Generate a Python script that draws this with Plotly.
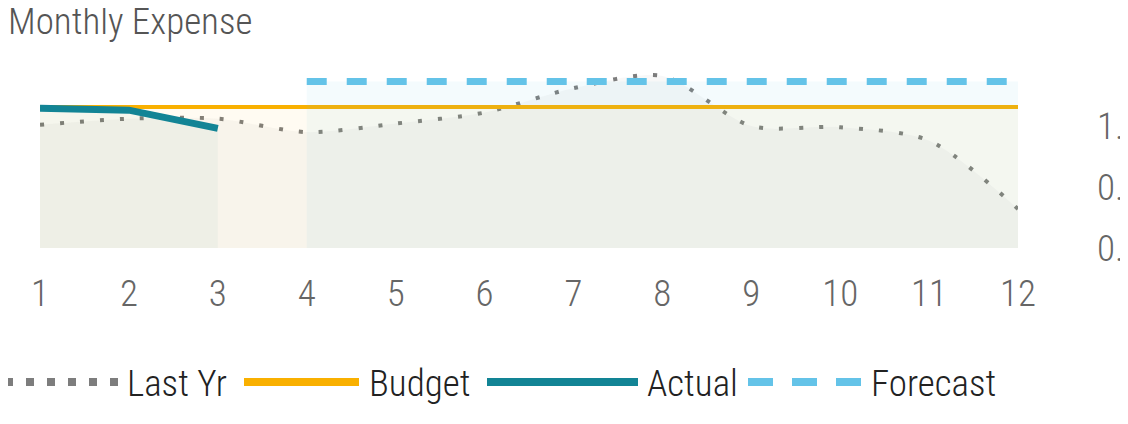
import plotly.graph_objects as go

FONT = "Roboto Condensed"

months = list(range(1, 13))
last_yr = [1.01, 1.06, 1.06, 0.95, 1.02, 1.11, 1.31, 1.41, 1.00, 0.99, 0.88, 0.32]
budget = [1.155] * 12
actual_months = [1, 2, 3]
actual = [1.145, 1.13, 0.98]
forecast_months = list(range(4, 13))
forecast = [1.365] * 9

y_ticks = [0.0, 0.5, 1.0]

# legend entries: name, color, dash
legend_items = [
    ("Last Yr", "#7d7d7d", "8px,13px"),
    ("Budget", "#F9B000", "solid"),
    ("Actual", "#128495", "solid"),
    ("Forecast", "#64C3E8", "25px,19px"),
]

# page body has an 8px margin on every side; keep the figure inside the window
OFF = 8
W, H = 1128 - OFF, 424 - 2 * OFF
M_L, M_T = 40 - OFF, 65 - OFF
M_B = H - (248 - OFF)
M_R = W - (1018 - OFF)
PW = W - M_L - M_R
PH = H - M_T - M_B


def px_x(p):
    # reference window pixel -> paper x
    return (p - OFF - M_L) / PW


def px_y(p):
    return (H - M_B - (p - OFF)) / PH


fig = go.Figure()

fig.add_trace(go.Scatter(
    x=months, y=last_yr, name="Last Yr", mode="lines",
    line=dict(color="#7d7d7d", width=4, dash="4px,16px", shape="spline", smoothing=0.8),
    fill="tozeroy", fillcolor="rgba(128,128,128,0.06)",
))
fig.add_trace(go.Scatter(
    x=months, y=budget, name="Budget", mode="lines",
    line=dict(color="#F9B000", width=4),
    fill="tozeroy", fillcolor="rgba(249,176,0,0.05)",
))
fig.add_trace(go.Scatter(
    x=actual_months, y=actual, name="Actual", mode="lines",
    line=dict(color="#128495", width=7),
    fill="tozeroy", fillcolor="rgba(18,132,149,0.045)",
))
fig.add_trace(go.Scatter(
    x=forecast_months, y=forecast, name="Forecast", mode="lines",
    line=dict(color="#64C3E8", width=7, dash="20px,20px"),
    fill="tozeroy", fillcolor="rgba(100,195,232,0.07)",
))

# custom legend below the plot (long symbols like the reference)
sym_x = [(5, 118), (244, 359), (487, 638), (748, 863)]
txt_x = [125, 367, 645, 869]
leg_y = 382
for (name, color, dash), (x0, x1), tx in zip(legend_items, sym_x, txt_x):
    fig.add_shape(type="line", xref="paper", yref="paper",
                  x0=px_x(x0), x1=px_x(x1), y0=px_y(leg_y), y1=px_y(leg_y),
                  line=dict(color=color, width=8, dash=dash))
    fig.add_annotation(xref="paper", yref="paper", x=px_x(tx), y=px_y(leg_y + 1),
                       xanchor="left", yanchor="middle", showarrow=False, text=name,
                       font=dict(family=FONT, size=37, weight=300, color="#222222"))

fig.update_layout(
    width=W, height=H,
    margin=dict(l=M_L, r=M_R, t=M_T, b=M_B, pad=0),
    paper_bgcolor="white", plot_bgcolor="white",
    showlegend=False,
    title=dict(text="Monthly Expense", x=0.0, xref="container", xanchor="left",
               y=1.0, yref="container", yanchor="top", pad=dict(t=0, l=0),
               font=dict(family=FONT, size=37, weight=300, color="#555555")),
    xaxis=dict(range=[1, 12], tickvals=months, showgrid=False, zeroline=False, showline=False,
               automargin=False, ticklabelstandoff=20,
               tickfont=dict(family=FONT, size=37, weight=300, color="#666666")),
    yaxis=dict(range=[0, 1.5], side="right", tickvals=y_ticks, tickformat=".1f",
               showgrid=False, zeroline=False, showline=False, automargin=False,
               ticklabelstandoff=78,
               tickfont=dict(family=FONT, size=37, weight=300, color="#666666")),
)

fig.write_html("out.html")
